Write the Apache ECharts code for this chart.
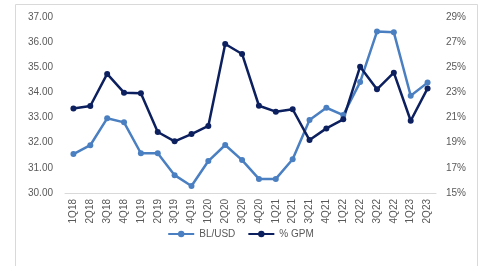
<!DOCTYPE html>
<html>
<head>
<meta charset="utf-8">
<script src="https://cdn.jsdelivr.net/npm/echarts@6/dist/echarts.min.js"></script>
<style>
  html, body { margin: 0; padding: 0; background: #fff; }
  #chart { width: 481px; height: 266px; }
</style>
</head>
<body>
<div id="chart"></div>
<script>
const quarters = ['1Q18', '2Q18', '3Q18', '4Q18', '1Q19', '2Q19', '3Q19', '4Q19', '1Q20', '2Q20', '3Q20',
  '4Q20', '1Q21', '2Q21', '3Q21', '4Q21', '1Q22', '2Q22', '3Q22', '4Q22', '1Q23', '2Q23'];
const blUsd = [31.55, 31.9, 32.97, 32.81, 31.58, 31.58, 30.71, 30.28, 31.27, 31.91, 31.31,
  30.56, 30.56, 31.34, 32.9, 33.39, 33.1, 34.41, 36.42, 36.39, 33.87, 34.39];
const gpm = [21.73, 21.92, 24.47, 22.98, 22.93, 19.85, 19.11, 19.69, 20.33, 26.85, 26.06,
  21.94, 21.47, 21.66, 19.21, 20.14, 20.86, 25.05, 23.25, 24.57, 20.75, 23.32];

const labelColor = '#595959';
const font = 'Liberation Sans';

const chart = echarts.init(document.getElementById('chart'), null, { renderer: 'canvas' });

chart.setOption({
  animation: false,
  graphic: [{
    type: 'rect',
    shape: { x: 15.5, y: 4.5, width: 462, height: 270 },
    style: { fill: 'none', stroke: '#d9d9d9', lineWidth: 1 },
    silent: true
  }],
  grid: { left: 65, right: 45, top: 17, bottom: 73 },
  legend: {
    bottom: 22,
    left: 'center',
    itemWidth: 26,
    itemHeight: 8,
    itemGap: 12,
    textStyle: { color: labelColor, fontFamily: font, fontSize: 10 },
    data: ['BL/USD', '% GPM']
  },
  xAxis: {
    type: 'category',
    data: quarters,
    axisLine: { lineStyle: { color: '#d9d9d9' } },
    axisTick: { show: false },
    axisLabel: { rotate: 90, interval: 0, color: labelColor, fontFamily: font, fontSize: 10, margin: 6 }
  },
  yAxis: [{
    type: 'value',
    min: 30,
    max: 37,
    interval: 1,
    splitLine: { show: false },
    axisLabel: {
      color: labelColor, fontFamily: font, fontSize: 10, margin: 12,
      formatter: v => v.toFixed(2)
    }
  }, {
    type: 'value',
    min: 15,
    max: 29,
    interval: 2,
    splitLine: { show: false },
    axisLabel: {
      color: labelColor, fontFamily: font, fontSize: 10, margin: 10,
      formatter: v => v + '%'
    }
  }],
  series: [{
    name: 'BL/USD',
    type: 'line',
    yAxisIndex: 0,
    data: blUsd,
    symbol: 'circle',
    symbolSize: 6,
    lineStyle: { width: 2.5, color: '#4a7fc1' },
    itemStyle: { color: '#4a7fc1' }
  }, {
    name: '% GPM',
    type: 'line',
    yAxisIndex: 1,
    data: gpm,
    symbol: 'circle',
    symbolSize: 6,
    lineStyle: { width: 2.5, color: '#0c1f5e' },
    itemStyle: { color: '#0c1f5e' }
  }]
});
</script>
</body>
</html>
